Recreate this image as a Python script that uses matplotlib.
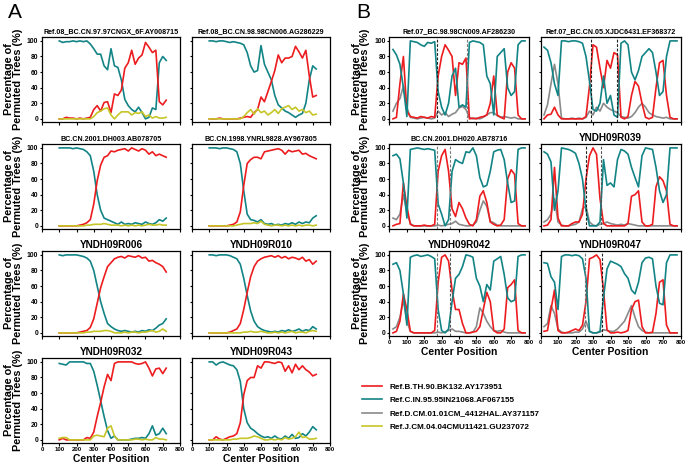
import matplotlib.pyplot as plt
from matplotlib.ticker import MultipleLocator

plt.rcParams['font.family'] = ['Liberation Sans', 'DejaVu Sans']
plt.rcParams['font.weight'] = 'bold'

RED = '#ec1c1f'
TEAL = '#138486'
GRAY = '#8a8a8a'
YEL = '#c6c628'

# window centre positions
x_a = list(range(100, 721, 20))
x_b = list(range(20, 781, 20))

# ---------- panel A ----------
a1_title = 'Ref.08_BC.CN.97.97CNGX_6F.AY008715'
a1_teal = [100,98,99,99,100,99,100,99,100,96,90,83,83,68,63,90,68,66,50,25,17,12,9,15,8,0,2,14,12,72,80,75]
a1_red = [0,0,2,1,1,0,1,0,1,2,12,17,10,21,22,8,32,30,37,65,72,88,70,78,82,98,92,85,88,22,18,24]
a1_yel = [0,0,0,0,0,0,0,0,0,0,3,8,10,13,14,5,0,5,9,9,9,5,8,7,9,3,5,1,3,1,1,2]

a2_title = 'Ref.08_BC.CN.98.98CN006.AG286229'
a2_teal = [100,100,99,100,100,99,98,99,98,97,95,85,68,60,62,94,70,60,50,30,18,14,10,8,5,2,5,7,20,50,68,64]
a2_red = [0,0,0,1,0,0,0,0,0,1,2,3,2,8,12,28,22,35,48,62,82,72,78,78,80,93,86,78,88,55,28,30]
a2_yel = [0,0,0,0,0,0,0,0,0,0,3,8,12,6,13,8,10,5,8,12,7,13,15,17,12,15,10,12,8,10,5,6]

a3_title = 'BC.CN.2001.DH003.AB078705'
a3_teal = [100,100,100,100,99,100,99,98,95,90,70,40,20,10,8,6,4,2,5,2,3,2,4,3,2,5,3,2,4,8,6,10]
a3_red = [0,0,0,0,0,0,1,2,4,8,28,58,78,88,90,96,95,97,98,99,96,100,98,96,99,97,92,95,90,92,90,88]
a3_yel = [0,0,0,0,0,0,0,0,1,1,2,2,2,3,2,1,1,1,0,1,0,1,0,1,0,1,2,1,1,2,1,1]

a4_title = 'BC.CN.1998.YNRL9828.AY967805'
a4_teal = [100,100,100,99,100,100,99,98,95,80,45,15,8,7,5,8,3,2,3,1,2,1,3,2,4,2,5,3,5,4,10,13]
a4_red = [0,0,0,0,0,0,1,2,5,18,52,80,85,88,88,86,95,96,97,98,99,97,92,97,95,96,97,92,93,90,88,86]
a4_yel = [0,0,0,0,0,0,0,0,1,2,3,3,3,4,3,6,2,1,0,1,1,0,1,0,1,0,1,0,1,1,0,1]

a5_title = 'YNDH09R006'
a5_teal = [100,99,100,100,100,100,99,98,96,92,80,60,40,25,12,8,5,3,2,3,2,1,2,1,3,2,4,3,6,10,12,18]
a5_red = [0,0,0,0,0,0,1,2,3,7,18,38,58,72,85,90,95,97,98,96,99,98,97,99,96,97,92,93,90,88,85,78]
a5_yel = [0,0,0,0,0,0,0,0,1,1,2,2,2,3,3,2,0,0,0,1,0,1,1,0,1,1,2,3,1,2,5,2]

a6_title = 'YNDH09R010'
a6_teal = [100,100,99,100,100,100,99,97,95,88,70,48,28,15,8,5,3,2,1,2,1,3,2,4,2,3,5,2,4,3,8,5]
a6_red = [0,0,0,0,0,0,1,3,5,12,30,52,72,85,92,95,97,98,99,97,99,96,98,95,97,96,94,97,92,94,88,92]
a6_yel = [0,0,0,0,0,0,0,0,0,0,1,1,2,1,1,2,1,0,0,1,0,1,0,1,2,0,1,1,0,2,3,2]

a7_title = 'YNDH09R032'
a7_teal = [98,97,96,100,100,100,100,100,98,98,88,70,50,30,12,2,5,0,0,0,0,1,2,2,3,2,8,18,6,8,15,8]
a7_red = [0,2,0,0,0,0,0,0,3,2,10,30,48,68,84,76,98,100,100,100,100,100,98,97,98,100,92,82,91,92,85,92]
a7_yel = [2,3,3,0,0,0,0,0,0,0,5,6,5,4,15,18,5,0,0,0,0,0,1,1,0,1,0,0,3,1,1,0]

a8_title = 'YNDH09R043'
a8_teal = [100,100,96,99,100,98,96,95,90,75,40,22,15,12,8,5,3,4,2,5,2,1,5,2,7,2,3,8,5,10,17,13]
a8_red = [0,0,4,1,0,2,4,5,8,22,58,76,80,80,95,92,100,100,99,98,100,99,88,95,86,97,90,95,90,87,82,84]
a8_yel = [0,0,0,0,0,0,0,1,1,2,2,2,3,5,4,2,0,0,1,0,1,0,3,1,2,4,10,3,4,1,1,2]

# ---------- panel B ----------
b1_title = 'Ref.07_BC.98.98CN009.AF286230'
b1_teal = [89,82,70,40,3,100,99,98,95,93,98,97,99,35,15,5,20,55,65,15,18,15,98,100,99,98,95,55,45,5,80,85,90,40,30,35,95,100,100]
b1_red = [0,2,45,80,10,3,2,1,3,2,1,3,2,55,80,95,88,80,30,72,70,78,0,1,0,2,3,5,20,55,5,2,0,60,72,65,5,0,0]
b1_gray = [10,20,26,42,15,2,1,0,1,2,1,0,1,10,5,8,3,6,8,14,16,12,2,0,1,0,2,5,8,8,4,2,3,2,1,2,0,0,0]
b1_cuts = [276, 445]

b2_title = 'Ref.07_BC.CN.05.XJDC6431.EF368372'
b2_teal = [92,88,72,45,30,100,100,99,100,100,99,97,80,48,12,10,20,55,20,30,5,2,97,100,95,60,50,62,80,85,90,85,60,30,35,80,100,100,100]
b2_red = [0,5,6,15,5,0,0,0,0,0,0,0,3,42,95,92,65,40,75,65,85,82,2,0,3,30,48,42,20,2,0,2,40,72,75,30,2,0,0]
b2_gray = [5,18,45,70,45,1,0,0,1,0,1,0,2,10,5,15,10,20,15,12,10,8,3,2,1,3,8,15,20,15,8,5,3,2,1,2,0,0,0]
b2_cuts = [288, 439]

b3_title = 'BC.CN.2001.DH020.AB78716'
b3_teal = [90,92,86,55,10,98,99,100,99,98,99,98,97,28,15,0,8,70,85,82,80,95,94,100,90,62,50,52,70,95,97,98,85,55,30,32,98,100,100]
b3_red = [0,2,3,55,25,2,0,0,0,1,0,0,2,70,90,98,70,22,12,30,22,10,2,0,8,38,45,30,5,2,0,1,8,60,72,66,3,0,0]
b3_gray = [10,8,15,40,18,3,0,0,0,0,0,0,0,1,0,1,2,3,6,2,1,0,0,1,5,20,32,25,6,4,1,0,0,0,0,0,0,0,0]
b3_cuts = [274, 348]

b4_title = 'YNDH09R039'
b4_teal = [95,92,82,20,45,100,99,98,96,93,80,60,20,0,0,0,5,85,52,55,50,85,98,96,92,75,62,50,90,100,99,98,75,45,30,40,100,100,100]
b4_red = [0,1,8,75,10,0,0,0,3,5,5,15,60,90,100,92,35,3,0,0,0,0,0,0,3,38,40,45,5,0,0,2,50,63,58,45,2,0,0]
b4_gray = [5,8,15,35,5,1,0,0,1,2,5,22,25,5,1,0,2,3,5,3,2,1,2,1,3,2,1,0,0,0,0,0,0,0,0,0,0,0,0]
b4_cuts = [259, 346]

b5_title = 'YNDH09R042'
b5_teal = [88,90,80,50,10,97,99,100,98,99,100,98,95,30,3,0,5,40,70,75,85,100,99,97,70,60,40,62,55,92,95,98,75,45,40,42,98,100,100]
b5_red = [0,2,15,50,30,2,0,0,0,0,0,0,3,65,97,100,92,55,30,30,12,0,0,1,2,8,30,52,40,3,0,0,5,58,62,68,3,0,0]
b5_gray = [5,8,20,42,15,2,0,0,0,0,0,0,0,1,0,1,3,5,2,2,1,0,0,1,8,32,25,15,8,3,2,3,1,0,0,0,0,0,0]
b5_cuts = [274, 350]

b6_title = 'YNDH09R047'
b6_teal = [90,89,72,65,30,98,100,100,99,100,99,95,70,2,0,0,2,45,82,92,90,88,85,76,70,55,50,65,90,96,97,95,60,38,36,90,100,100,100]
b6_red = [2,3,30,55,3,0,0,1,3,5,3,10,40,95,97,100,94,55,4,0,0,1,0,1,3,30,40,42,8,0,0,1,25,65,68,10,0,0,0]
b6_gray = [8,12,35,25,5,1,0,0,0,1,1,5,15,2,0,0,1,4,3,2,2,5,10,15,25,35,20,8,3,1,0,0,0,0,0,0,0,0,0]
b6_cuts = [254, 354]

legend_labels = ['Ref.B.TH.90.BK132.AY173951', 'Ref.C.IN.95.95IN21068.AF067155',
                 'Ref.D.CM.01.01CM_4412HAL.AY371157', 'Ref.J.CM.04.04CMU11421.GU237072']

W, H = 686, 469
fig = plt.figure(figsize=(W / 100, H / 100), dpi=100)

row_top = [37, 144, 251, 358]   # pixel tops of the rows
AX_H = 85


def panel(left, width, row, title, big_title, ylab, xlab):
    top = row_top[row]
    ax = fig.add_axes([left / W, 1 - (top + AX_H) / H, width / W, AX_H / H])
    ax.set_xlim(0, 800)
    ax.set_ylim(-4, 105)
    ax.xaxis.set_major_locator(MultipleLocator(100))
    ax.yaxis.set_major_locator(MultipleLocator(20))
    for s in ax.spines.values():
        s.set_linewidth(0.9)
    ax.tick_params(axis='both', direction='out', length=1.8, width=0.8, pad=0.8)
    ax.tick_params(axis='y', labelsize=4.9, labelleft=ylab)
    ax.tick_params(axis='x', labelsize=4.3, labelbottom=xlab)
    ax.set_title(title, fontsize=7.2 if big_title else 5.1, fontweight='bold', pad=2.5)
    if ylab:
        ax.set_ylabel('Percentage of\nPermuted Trees (%)', fontsize=7.8, fontweight='bold',
                      labelpad=3, linespacing=0.82)
    if xlab:
        ax.set_xlabel('Center Position', fontsize=7.4, fontweight='bold', labelpad=2)
    return ax


a_panels = [
    (a1_title, a1_teal, a1_red, a1_yel), (a2_title, a2_teal, a2_red, a2_yel),
    (a3_title, a3_teal, a3_red, a3_yel), (a4_title, a4_teal, a4_red, a4_yel),
    (a5_title, a5_teal, a5_red, a5_yel), (a6_title, a6_teal, a6_red, a6_yel),
    (a7_title, a7_teal, a7_red, a7_yel), (a8_title, a8_teal, a8_red, a8_yel),
]
for i, (t, teal, red, yel) in enumerate(a_panels):
    row, col = i // 2, i % 2
    left, width = (42, 138) if col == 0 else (192, 138)
    ax = panel(left, width, row, t, t.startswith('YNDH'), col == 0, row == 3)
    ax.plot(x_a, teal, color=TEAL, lw=1.2)
    ax.plot(x_a, red, color=RED, lw=1.2)
    ly, = ax.plot(x_a, yel, color=YEL, lw=1.2)

cut_colors = [('#222222', '#777777'), ('#222222', '#222222'), ('#777777', '#777777'),
              ('#222222', '#555555'), ('#777777', '#555555'), ('#777777', '#222222')]
b_panels = [
    (b1_title, b1_teal, b1_red, b1_gray, b1_cuts), (b2_title, b2_teal, b2_red, b2_gray, b2_cuts),
    (b3_title, b3_teal, b3_red, b3_gray, b3_cuts), (b4_title, b4_teal, b4_red, b4_gray, b4_cuts),
    (b5_title, b5_teal, b5_red, b5_gray, b5_cuts), (b6_title, b6_teal, b6_red, b6_gray, b6_cuts),
]
for i, (t, teal, red, gray, cuts) in enumerate(b_panels):
    row, col = i // 2, i % 2
    left, width = (389.5, 139) if col == 0 else (540.5, 140)
    ax = panel(left, width, row, t, t.startswith('YNDH'), col == 0, row == 2)
    lg, = ax.plot(x_b, gray, color=GRAY, lw=1.2)
    lr, = ax.plot(x_b, red, color=RED, lw=1.2)
    lt, = ax.plot(x_b, teal, color=TEAL, lw=1.2)
    for c, cc in zip(cuts, cut_colors[i]):
        ax.axvline(c, color=cc, lw=0.8, ls=(0, (2.5, 1.5)))

fig.text(8 / W, 1 - 13 / H, 'A', fontsize=15, fontweight='normal', va='center')
fig.text(356 / W, 1 - 13 / H, 'B', fontsize=15, fontweight='normal', va='center')

fig.legend([lr, lt, lg, ly], legend_labels, loc='center left',
           bbox_to_anchor=(362 / W, 1 - 407 / H), frameon=False, fontsize=5.9,
           handlelength=2.4, handletextpad=0.9, labelspacing=0.7,
           borderpad=0, borderaxespad=0)

fig.savefig('out.png', dpi=100)
